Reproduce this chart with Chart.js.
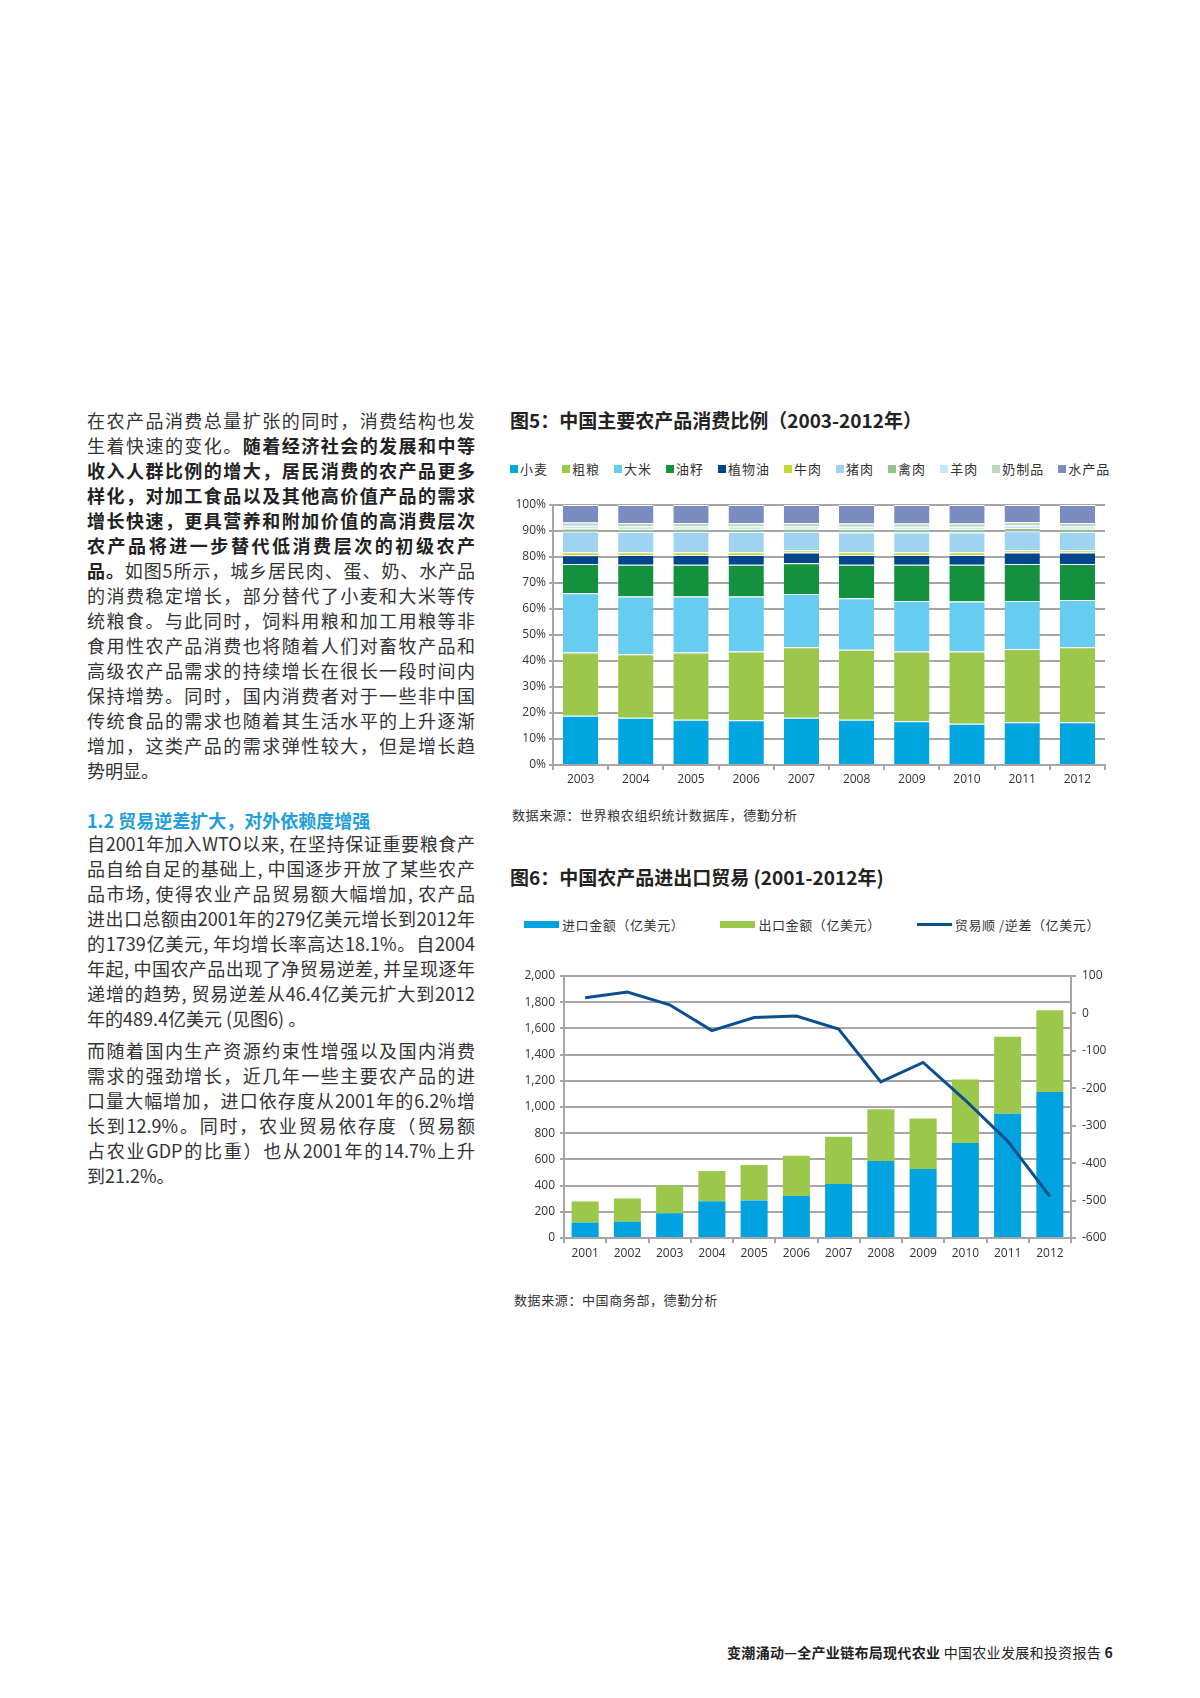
<!DOCTYPE html>
<html>
<head>
<meta charset="utf-8">
<script src="https://cdn.jsdelivr.net/npm/chart.js@4.4.1/dist/chart.umd.min.js"></script>
<style>
  html, body { margin: 0; padding: 0; background: #fff; }
  body { width: 1200px; height: 1698px; position: relative; overflow: hidden;
         font-family: "Noto Sans CJK SC", "Noto Sans", sans-serif; color: #333; }
  .abs { position: absolute; }
  .para { left: 87px; width: 388px; font-size: 18px; line-height: 25px; }
  .para div { white-space: nowrap; text-align: justify; text-align-last: justify; }
  .para div.last { text-align-last: left; }
  .para b { font-weight: 700; color: #222; }
  .h2 { left: 87px; top: 808px; font-size: 18px; line-height: 25px; font-weight: 700; color: #1fa0dc; }
  .title { left: 510px; font-size: 19px; font-weight: 700; color: #222; line-height: 24px; }
  .legend { display: flex; align-items: center; font-size: 13px; letter-spacing: 1px; color: #333; white-space: nowrap; }
  .legend .it { display: flex; align-items: center; }
  .src { font-size: 13px; letter-spacing: 0.6px; color: #333; line-height: 16px; }
  .footer { right: 87px; top: 1644px; font-size: 14px; letter-spacing: 0.3px; color: #222; line-height: 17px; }
</style>
</head>
<body>

<div class="abs para" style="top:408px">
  <div>在农产品消费总量扩张的同时，消费结构也发</div>
  <div>生着快速的变化。<b>随着经济社会的发展和中等</b></div>
  <div><b>收入人群比例的增大，居民消费的农产品更多</b></div>
  <div><b>样化，对加工食品以及其他高价值产品的需求</b></div>
  <div><b>增长快速，更具营养和附加价值的高消费层次</b></div>
  <div><b>农产品将进一步替代低消费层次的初级农产</b></div>
  <div><b>品。</b>如图5所示，城乡居民肉、蛋、奶、水产品</div>
  <div>的消费稳定增长，部分替代了小麦和大米等传</div>
  <div>统粮食。与此同时，饲料用粮和加工用粮等非</div>
  <div>食用性农产品消费也将随着人们对畜牧产品和</div>
  <div>高级农产品需求的持续增长在很长一段时间内</div>
  <div>保持增势。同时，国内消费者对于一些非中国</div>
  <div>传统食品的需求也随着其生活水平的上升逐渐</div>
  <div>增加，这类产品的需求弹性较大，但是增长趋</div>
  <div class="last">势明显。</div>
</div>

<div class="abs h2">1.2 贸易逆差扩大，对外依赖度增强</div>

<div class="abs para" style="top:831px">
  <div>自2001年加入WTO以来, 在坚持保证重要粮食产</div>
  <div>品自给自足的基础上, 中国逐步开放了某些农产</div>
  <div>品市场, 使得农业产品贸易额大幅增加, 农产品</div>
  <div>进出口总额由2001年的279亿美元增长到2012年</div>
  <div>的1739亿美元, 年均增长率高达18.1%。自2004</div>
  <div>年起, 中国农产品出现了净贸易逆差, 并呈现逐年</div>
  <div>递增的趋势, 贸易逆差从46.4亿美元扩大到2012</div>
  <div class="last">年的489.4亿美元 (见图6) 。</div>
</div>

<div class="abs para" style="top:1038px">
  <div>而随着国内生产资源约束性增强以及国内消费</div>
  <div>需求的强劲增长，近几年一些主要农产品的进</div>
  <div>口量大幅增加，进口依存度从2001年的6.2%增</div>
  <div>长到12.9%。同时，农业贸易依存度（贸易额</div>
  <div>占农业GDP的比重）也从2001年的14.7%上升</div>
  <div class="last">到21.2%。</div>
</div>

<div class="abs title" style="top:408px">图5：中国主要农产品消费比例（2003-2012年）</div>
<div class="abs legend" id="legend5" style="left:510px; top:459px; gap:14px"></div>
<canvas class="abs" id="chart5" width="615" height="310" style="left:500px; top:490px"></canvas>
<div class="abs src" style="left:512px; top:807px">数据来源：世界粮农组织统计数据库，德勤分析</div>

<div class="abs title" style="top:865px">图6：中国农产品进出口贸易 (2001-2012年)</div>
<div class="abs legend" id="legend6" style="left:524px; top:915px; gap:36px; letter-spacing:0.6px"></div>
<canvas class="abs" id="chart6" width="620" height="320" style="left:500px; top:960px"></canvas>
<div class="abs src" style="left:514px; top:1292px">数据来源：中国商务部，德勤分析</div>

<div class="abs footer"><b>变潮涌动—全产业链布局现代农业</b> 中国农业发展和投资报告 <b>6</b></div>

<script>
// ---------- 图5 data (percent of total) ----------
const years5 = ['2003', '2004', '2005', '2006', '2007', '2008', '2009', '2010', '2011', '2012'];
const names5 = ['小麦', '粗粮', '大米', '油籽', '植物油', '牛肉', '猪肉', '禽肉', '羊肉', '奶制品', '水产品'];
const wheat   = [18.9, 18.2, 17.4, 17.2, 18.2, 17.4, 16.8, 15.9, 16.4, 16.4];
const coarse  = [24.4, 24.4, 25.9, 26.5, 27.1, 26.9, 26.9, 27.8, 28.2, 28.9];
const rice    = [22.8, 22.2, 21.5, 21.1, 20.5, 19.8, 19.4, 19.2, 18.5, 18.2];
const oilseed = [11.2, 12.2, 12.2, 12.2, 11.8, 12.9, 13.9, 14.1, 14.2, 13.8];
const vegOil  = [3.4, 3.8, 3.8, 3.8, 4.1, 3.8, 3.8, 3.8, 4.4, 4.4];
const beef    = [1.1, 1.0, 1.0, 1.0, 0.9, 1.0, 1.0, 1.0, 0.9, 0.9];
const pork    = [8.0, 7.8, 7.9, 7.8, 7.1, 7.6, 7.6, 7.6, 7.3, 7.0];
const poultry = [1.2, 1.2, 1.2, 1.2, 1.2, 1.3, 1.3, 1.3, 1.3, 1.3];
const mutton  = [1.0, 1.0, 0.9, 0.9, 0.9, 0.9, 0.9, 0.9, 0.9, 0.9];
const dairy   = [1.3, 1.3, 1.3, 1.3, 1.3, 1.3, 1.3, 1.3, 1.3, 1.3];
const aquatic = [6.7, 6.9, 6.9, 7.0, 6.9, 7.1, 7.1, 7.1, 6.6, 6.9];
const pctTicks = [0, 10, 20, 30, 40, 50, 60, 70, 80, 90, 100];

// ---------- 图6 data (亿美元) ----------
const years6  = ['2001', '2002', '2003', '2004', '2005', '2006', '2007', '2008', '2009', '2010', '2011', '2012'];
const names6  = ['进口金额（亿美元）', '出口金额（亿美元）', '贸易顺 /逆差（亿美元）'];
const imports = [118, 124, 189, 280, 287, 321, 412, 588, 527, 726, 949, 1114];
const exports = [161, 178, 212, 231, 270, 307, 361, 395, 385, 484, 588, 625];
const balance = [42, 57, 23, -46, -11, -7, -42, -183, -131, -232, -341, -489];

const colors5 = ['#00a6e0', '#9bc84b', '#66cdf0', '#13913f', '#00468c', '#c5d930',
                 '#9fd3f2', '#94c18e', '#c2e7f8', '#bad8bc', '#7b8cc0'];
const series5 = [wheat, coarse, rice, oilseed, vegOil, beef, pork, poultry, mutton, dairy, aquatic];
const GRID = '#a6a6a6';
const tickFont = { family: '"Open Sans", "Noto Sans", sans-serif', size: 12 };

Chart.defaults.color = '#333';
Chart.defaults.font.family = tickFont.family;

// legend 5
var lg5 = document.getElementById('legend5');
names5.forEach(function (n, i) {
    var it = document.createElement('div');
    it.className = 'it';
    it.innerHTML = '<span style="display:inline-block;width:8px;height:8px;margin-right:2px;background:' + colors5[i] + '"></span>' + n;
    lg5.appendChild(it);
});

new Chart(document.getElementById('chart5'), {
    type: 'bar',
    data: {
        labels: years5,
        datasets: series5.map(function (d, i) {
            return {
                label: names5[i],
                data: d,
                backgroundColor: colors5[i],
                borderColor: '#ffffff',
                borderWidth: { top: 1, bottom: 0, left: 0, right: 0 },
                borderSkipped: false,
                categoryPercentage: 1,
                barPercentage: 0.64
            };
        })
    },
    options: {
        responsive: false,
        animation: false,
        layout: { padding: { top: 15, right: 10, left: 0, bottom: 0 } },
        plugins: { legend: { display: false }, tooltip: { enabled: false } },
        scales: {
            x: {
                stacked: true,
                grid: { offset: true, drawOnChartArea: false, color: GRID, lineWidth: 2, tickLength: 5 },
                border: { color: GRID, width: 2 },
                ticks: { font: tickFont, color: '#333', padding: 2, maxRotation: 0 },
                afterFit: function (s) { s.height = 35; }
            },
            y: {
                stacked: true,
                min: 0,
                max: 100,
                afterBuildTicks: function (s) { s.ticks = pctTicks.map(function (v) { return { value: v }; }); },
                grid: { color: GRID, lineWidth: 2, tickLength: 4 },
                border: { color: GRID, width: 2 },
                ticks: { font: tickFont, color: '#333', padding: 3, callback: function (v) { return v + '%'; } },
                afterFit: function (s) { s.width = 53; }
            }
        }
    }
});

// legend 6
var colors6 = ['#00a3e0', '#9bc84b', '#0b4f8f'];
var lg6 = document.getElementById('legend6');
names6.forEach(function (n, i) {
    var h = i === 2 ? 3 : 7;
    var it = document.createElement('div');
    it.className = 'it';
    it.innerHTML = '<span style="display:inline-block;width:35px;height:' + h + 'px;margin-right:3px;background:' + colors6[i] + '"></span>' + n;
    lg6.appendChild(it);
});

new Chart(document.getElementById('chart6'), {
    type: 'bar',
    data: {
        labels: years6,
        datasets: [
            { type: 'line', label: names6[2], data: balance, yAxisID: 'y1', borderColor: colors6[2],
              borderWidth: 3, pointRadius: 0, tension: 0, fill: false, order: 0 },
            { label: names6[0], data: imports, backgroundColor: colors6[0], yAxisID: 'y', stack: 's',
              categoryPercentage: 1, barPercentage: 0.64, order: 1 },
            { label: names6[1], data: exports, backgroundColor: colors6[1], yAxisID: 'y', stack: 's',
              categoryPercentage: 1, barPercentage: 0.64, order: 1 }
        ]
    },
    options: {
        responsive: false,
        animation: false,
        layout: { padding: { top: 16, right: 0, left: 0, bottom: 0 } },
        plugins: { legend: { display: false }, tooltip: { enabled: false } },
        scales: {
            x: {
                stacked: true,
                grid: { offset: true, drawOnChartArea: false, color: GRID, lineWidth: 2, tickLength: 5 },
                border: { color: GRID, width: 2 },
                ticks: { font: tickFont, color: '#333', padding: 3, maxRotation: 0 },
                afterFit: function (s) { s.height = 42; }
            },
            y: {
                position: 'left',
                stacked: true,
                min: 0,
                max: 2000,
                ticks: { stepSize: 200, font: tickFont, color: '#333', padding: 5,
                         callback: function (v) { return v.toLocaleString('en-US'); } },
                grid: { color: GRID, lineWidth: 2, tickLength: 4 },
                border: { color: GRID, width: 2 },
                afterFit: function (s) { s.width = 64; }
            },
            y1: {
                position: 'right',
                min: -600,
                max: 100,
                ticks: { stepSize: 100, font: tickFont, color: '#333', padding: 6 },
                grid: { drawOnChartArea: false, color: GRID, lineWidth: 2, tickLength: 5 },
                border: { color: GRID, width: 2 },
                afterFit: function (s) { s.width = 49; }
            }
        }
    }
});
</script>
</body>
</html>
